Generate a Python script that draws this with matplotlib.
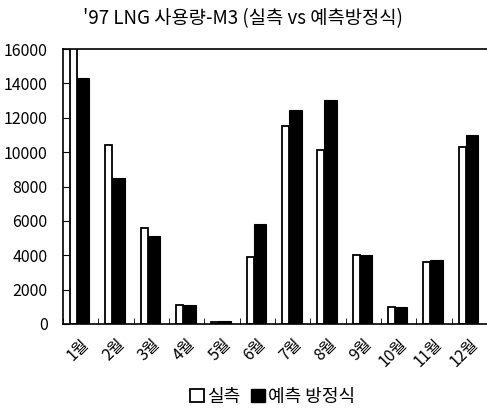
import matplotlib
matplotlib.use("Agg")
import matplotlib.pyplot as plt
import matplotlib.transforms as mtransforms
import numpy as np
from matplotlib.patches import Patch

plt.rcParams['font.family'] = ['Noto Sans CJK KR', 'DejaVu Sans']

months = ['1월', '2월', '3월', '4월', '5월', '6월', '7월', '8월', '9월', '10월', '11월', '12월']
actual = [16500, 10400, 5600, 1100, 100, 3900, 11500, 10100, 4000, 1000, 3600, 10300]
predicted = [14300, 8500, 5100, 1100, 200, 5800, 12450, 13050, 4000, 1000, 3700, 11000]
yticks = [0, 2000, 4000, 6000, 8000, 10000, 12000, 14000, 16000]

fig = plt.figure(figsize=(4.87, 4.13), dpi=100)
ax = fig.add_axes([63/487, 1-324/413, 424/487, 275/413])

x = np.arange(len(months))
ax.bar(x - 0.2, actual, width=0.2, color='white', edgecolor='black', linewidth=1.3, zorder=2)
ax.bar(x + 0.075, predicted, width=0.35, color='black', edgecolor='black', linewidth=0.8, zorder=3)

ax.set_xlim(-0.5, 11.5)
ax.set_ylim(0, 16000)
ax.set_yticks(yticks)
ax.set_yticklabels([str(v) for v in yticks], fontsize=11.5)
ax.tick_params(axis='y', direction='in', length=4, pad=11)
ax.set_xticks(x)
ax.set_xticklabels(months, rotation=45, ha='right', rotation_mode='anchor', fontsize=11.5)
offset = mtransforms.ScaledTranslation(-6/100, 0, fig.dpi_scale_trans)
for lbl in ax.get_xticklabels():
    lbl.set_transform(lbl.get_transform() + offset)
ax.set_xticks(np.arange(-0.5, 12, 1), minor=True)
ax.tick_params(axis='x', which='major', length=0, pad=8)
ax.tick_params(axis='x', which='minor', direction='in', length=4)
ax.spines['right'].set_color('#bbbbbb')
ax.spines['right'].set_linewidth(0.6)
for s in ['left', 'bottom', 'top']:
    ax.spines[s].set_linewidth(1.2)

fig.text(0.499, 0.956, "'97 LNG 사용량-M3 (실측 vs 예측방정식)", ha='center', va='center', fontsize=13.5)

handles = [Patch(facecolor='white', edgecolor='black', linewidth=1.3),
           Patch(facecolor='black', edgecolor='black')]
fig.legend(handles, ['실측', '예측 방정식'], loc='center', bbox_to_anchor=(0.56, 0.039),
           ncol=2, frameon=False, fontsize=13, handlelength=0.75, handleheight=0.75,
           handletextpad=0.2, columnspacing=0.6)

fig.savefig('out.png', dpi=100)
